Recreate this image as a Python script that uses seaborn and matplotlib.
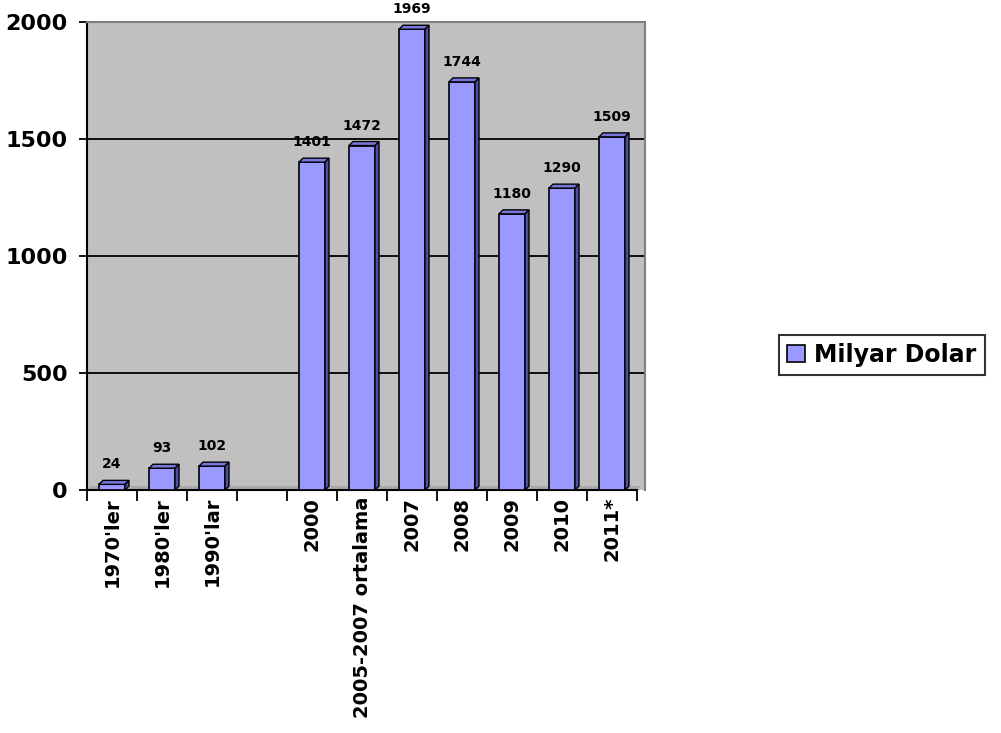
import matplotlib
matplotlib.use('Agg')
import matplotlib.pyplot as plt
import matplotlib.patches as mpatches
import numpy as np
import pandas as pd
import seaborn as sns

# --------------------------- data ----------------- #
categories = ["1970'ler", "1980'ler", "1990'lar", " ", "2000", "2005-2007 ortalama",
              "2007", "2008", "2009", "2010", "2011*"]
values = [24, 93, 102, np.nan, 1401, 1472, 1969, 1744, 1180, 1290, 1509]
series_name = 'Milyar Dolar'
y_ticks = [0, 500, 1000, 1500, 2000]

bar_color = '#9999FF'
top_color = '#7777DD'
side_color = '#4D4DAA'
wall_color = '#C0C0C0'

sns.set_style('white')
plt.rcParams['font.family'] = ['DejaVu Sans']
plt.rcParams['text.color'] = 'black'
plt.rcParams['xtick.color'] = 'black'
plt.rcParams['ytick.color'] = 'black'
plt.rcParams['xtick.labelcolor'] = 'black'
plt.rcParams['ytick.labelcolor'] = 'black'

df = pd.DataFrame({'cat': categories, 'val': values})

fig = plt.figure(figsize=(10.01, 7.33), dpi=100)
# axes box in pixels: left 87, right 645, bottom 490, top 22
ax = fig.add_axes([87 / 1001, (733 - 490) / 733, (645 - 87) / 1001, (490 - 22) / 733])
ax.set_facecolor(wall_color)

sns.barplot(data=df.dropna(), x='cat', y='val', order=categories, color=bar_color,
            width=0.52, saturation=1, edgecolor='black', linewidth=1.2, ax=ax, zorder=3)

ax.set_xlim(-0.5, 10.5 + 8 / 50)
ax.set_ylim(0, 2000)

# 3d depth in data units (about 4 px)
dx = 0.08
dy = 4 / 0.234

# floor edge
ax.add_patch(mpatches.Polygon([(-0.5, 0), (10.5, 0), (10.5 + dx, dy), (-0.5 + dx, dy)],
                              closed=True, facecolor='#A8A8A8', edgecolor='none', zorder=1))

for p in ax.patches[:]:
    if not isinstance(p, mpatches.Rectangle) or p.get_height() <= 0:
        continue
    x, w, h = p.get_x(), p.get_width(), p.get_height()
    if np.isnan(h):
        continue
    top = mpatches.Polygon([(x, h), (x + dx, h + dy), (x + w + dx, h + dy), (x + w, h)],
                           closed=True, facecolor=top_color, edgecolor='black', linewidth=1.0, zorder=4)
    side = mpatches.Polygon([(x + w, 0), (x + w + dx, dy), (x + w + dx, h + dy), (x + w, h)],
                            closed=True, facecolor=side_color, edgecolor='black', linewidth=1.0, zorder=4)
    ax.add_patch(top)
    ax.add_patch(side)
    ax.annotate(f'{int(round(h))}', (x + w / 2, h), xytext=(0, 13), textcoords='offset pixels',
                ha='center', va='bottom', fontsize=10, fontweight='bold',
                color='black', zorder=5)

# gridlines
for yv in y_ticks[1:-1]:
    ax.axhline(yv, color='black', linewidth=1.3, zorder=2)

ax.set_yticks(y_ticks)
ax.set_yticklabels([str(v) for v in y_ticks], fontsize=16, fontweight='bold')
ax.tick_params(axis='y', length=6, width=1.3, direction='out', left=True, pad=8)

ax.set_xticks(range(len(categories)))
ax.set_xticklabels(categories, rotation=90, fontsize=14, fontweight='bold')
ax.set_xticks(np.arange(-0.5, len(categories), 1.0), minor=True)
ax.tick_params(axis='x', which='major', length=0, pad=5)
ax.tick_params(axis='x', which='minor', length=8, width=1.3, direction='out', bottom=True)

ax.set_xlabel('')
ax.set_ylabel('')

for side_name in ['left', 'bottom']:
    ax.spines[side_name].set_color('black')
    ax.spines[side_name].set_linewidth(1.5)
ax.spines['bottom'].set_bounds(-0.5, 10.5)
for side_name in ['top', 'right']:
    ax.spines[side_name].set_color('#808080')
    ax.spines[side_name].set_linewidth(1.5)

handle = mpatches.Patch(facecolor=bar_color, edgecolor='black', linewidth=1.2, label=series_name)
leg = fig.legend(handles=[handle], loc='center', bbox_to_anchor=(882 / 1001, 1 - 355 / 733),
                 frameon=True, fancybox=False, prop={'size': 17, 'weight': 'bold'},
                 handlelength=0.75, handleheight=0.75, handletextpad=0.4, borderpad=0.35)
leg.get_frame().set_edgecolor('black')
leg.get_frame().set_linewidth(1.5)

fig.savefig('out.png', dpi=100)
